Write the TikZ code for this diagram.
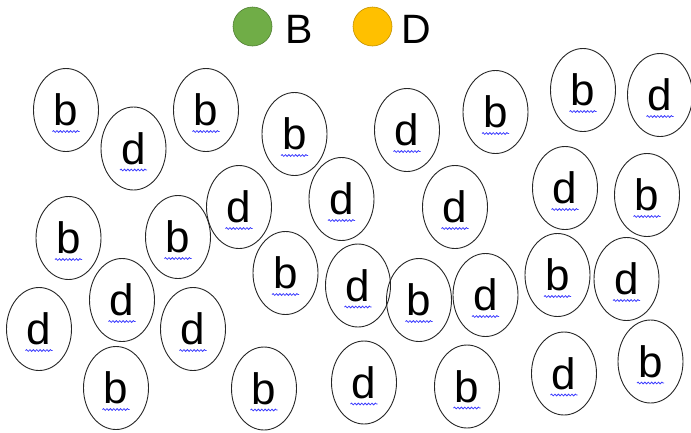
\documentclass[tikz,border=0pt]{standalone}
\usepackage{fontspec}
\setmainfont{Liberation Sans}
\usetikzlibrary{shapes.geometric,calc,decorations.pathmorphing}
\definecolor{legB}{HTML}{70AD47}
\definecolor{legBd}{HTML}{507E32}
\definecolor{legD}{HTML}{FFC000}
\definecolor{legDd}{HTML}{C09000}
\definecolor{squigblue}{RGB}{60,60,255}
\tikzset{
  bub/.style={ellipse, draw=black!85, line width=0.9pt, minimum width=65pt, minimum height=83pt, inner sep=0pt, font=\fontsize{44}{44}\selectfont},
  squig/.style={draw=squigblue, line width=0.8pt, decorate, decoration={snake, segment length=3.4pt, amplitude=0.9pt}},
  legdot/.style={circle, minimum size=39pt, inner sep=0pt, line width=0.6pt},
  legtext/.style={anchor=base west, inner sep=0pt, font=\fontsize{41}{41}\selectfont}
}
\begin{document}
\begin{tikzpicture}[x=1pt,y=-1pt]
\useasboundingbox (0,0) rectangle (691,432);
% legend
\node[legdot, fill=legB, draw=legBd] (lb) at (252.5,26.5) {};
\node[legtext] (tb) at (285,43) {B};
\node[legdot, fill=legD, draw=legDd] (ld) at (372.5,26.5) {};
\node[legtext] (td) at (401,43) {D};
% bubbles
\foreach \i/\x/\y/\t in {
 1/66/110/b, 2/133.5/148.5/d, 3/206/110/b, 4/294.5/134/b, 5/407/130/d,
 6/495.5/112/b, 7/583/90/b, 8/660/95/d, 9/565/188/d, 10/647/195/b,
 11/455/207/d, 12/341.5/199/d, 13/239/207/d, 14/68.5/238/b, 15/178/237/b,
 16/122/300/d, 17/39/329/d, 18/193/329/d, 19/116/388/b, 20/285.5/273/b,
 21/358/285.5/d, 22/419/300/b, 23/485.5/295/d, 24/557.5/275/b, 25/626.5/279/d,
 26/564/373.5/d, 27/650.5/361.5/b, 28/264/388.5/b, 29/364/382.5/d, 30/467/386.5/b}{
  \node[bub] (n\i) at (\x,\y) {\t};
  \draw[squig] ($(n\i.center)+(-13.5,21.5)$) -- ++(27,0);
}
\end{tikzpicture}
\end{document}
